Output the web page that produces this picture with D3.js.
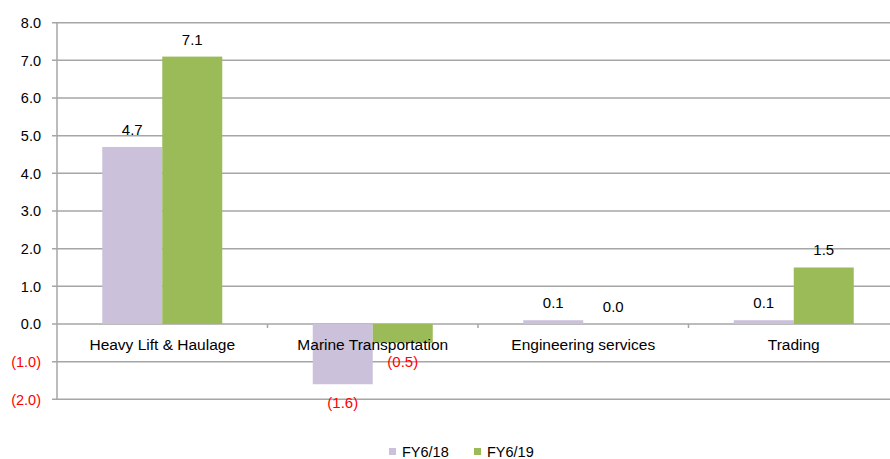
<!DOCTYPE html>
<html>
<head>
<meta charset="utf-8">
<script src="https://cdn.jsdelivr.net/npm/d3@7"></script>
<style>
  html, body { margin: 0; padding: 0; background: #fff; }
  svg { display: block; font-family: "Liberation Sans", Arial, sans-serif; }
</style>
</head>
<body>
<svg id="chart" width="890" height="459"></svg>
<script>
// Segment results by financial year
const categories = ["Heavy Lift & Haulage", "Marine Transportation", "Engineering services", "Trading"];
const seriesNames = ["FY6/18", "FY6/19"];
const fy18 = [4.7, -1.6, 0.1, 0.1];
const fy19 = [7.1, -0.5, 0.0, 1.5];
const yTicks = [-2, -1, 0, 1, 2, 3, 4, 5, 6, 7, 8];
const colors = ["#CCC1DA", "#9BBB59"];

const svg = d3.select("#chart");
const margin = { left: 57, right: -9, top: 22.7, bottom: 59.7 };
const W = 890, H = 459;

const y = d3.scaleLinear().domain([-2, 8]).range([H - margin.bottom, margin.top]);
const x0 = d3.scaleBand().domain(categories).range([margin.left, W - margin.right]).paddingInner(0).paddingOuter(0);
const groupW = 120;
const x1 = d3.scaleBand().domain(seriesNames).range([0, groupW]).padding(0);

const fmt = v => {
  const s = Math.abs(v).toFixed(1);
  return v < 0 ? "(" + s + ")" : s;
};

// Horizontal gridlines
svg.append("g")
  .selectAll("line")
  .data(yTicks)
  .join("line")
  .attr("x1", margin.left - 5)
  .attr("x2", W)
  .attr("y1", d => y(d))
  .attr("y2", d => y(d))
  .attr("stroke", "#a6a6a6")
  .attr("stroke-width", 1.5);

// Bars
const data = categories.map((c, i) => ({ cat: c, vals: [fy18[i], fy19[i]] }));
const groups = svg.append("g")
  .selectAll("g")
  .data(data)
  .join("g")
  .attr("transform", d => `translate(${x0(d.cat) + (x0.bandwidth() - groupW) / 2},0)`);

groups.selectAll("rect")
  .data(d => d.vals.map((v, j) => ({ v, s: seriesNames[j], j })))
  .join("rect")
  .attr("x", d => x1(d.s))
  .attr("width", x1.bandwidth())
  .attr("y", d => y(Math.max(0, d.v)))
  .attr("height", d => Math.abs(y(d.v) - y(0)))
  .attr("fill", d => colors[d.j]);

// Y axis line and category tick marks
svg.append("line")
  .attr("x1", margin.left).attr("x2", margin.left)
  .attr("y1", y(8)).attr("y2", y(-2))
  .attr("stroke", "#a6a6a6").attr("stroke-width", 1.5);

svg.append("g")
  .selectAll("line")
  .data(categories.slice(1))
  .join("line")
  .attr("x1", d => x0(d)).attr("x2", d => x0(d))
  .attr("y1", y(0)).attr("y2", y(0) + 4)
  .attr("stroke", "#a6a6a6").attr("stroke-width", 1.5);

// Y tick labels
svg.append("g")
  .selectAll("text")
  .data(yTicks)
  .join("text")
  .attr("x", 41)
  .attr("y", d => y(d))
  .attr("dy", "0.36em")
  .attr("text-anchor", "end")
  .attr("font-size", 14.5)
  .attr("fill", d => d < 0 ? "#ff0000" : "#000")
  .text(d => fmt(d));

// Category labels
svg.append("g")
  .selectAll("text")
  .data(categories)
  .join("text")
  .attr("x", d => x0(d) + x0.bandwidth() / 2)
  .attr("y", y(0) + 26)
  .attr("text-anchor", "middle")
  .attr("font-size", 15.5)
  .attr("fill", "#000")
  .text(d => d);

// Value labels
groups.selectAll("text")
  .data(d => d.vals.map((v, j) => ({ v, s: seriesNames[j], j })))
  .join("text")
  .attr("x", d => x1(d.s) + x1.bandwidth() / 2)
  .attr("y", d => d.v < 0 ? y(d.v) + 24 : y(d.v) - 12)
  .attr("text-anchor", "middle")
  .attr("font-size", 15)
  .attr("fill", d => d.v < 0 ? "#ff0000" : "#000")
  .text(d => fmt(d.v));

// Legend
const legend = svg.append("g")
  .selectAll("g")
  .data(seriesNames)
  .join("g")
  .attr("transform", (d, i) => `translate(${389 + i * 85},448)`);
legend.append("rect")
  .attr("width", 7).attr("height", 7)
  .attr("fill", (d, i) => colors[i]);
legend.append("text")
  .attr("x", 13).attr("y", 3.5)
  .attr("dy", "0.36em")
  .attr("font-size", 14.5)
  .attr("fill", "#000")
  .text(d => d);
</script>
</body>
</html>
